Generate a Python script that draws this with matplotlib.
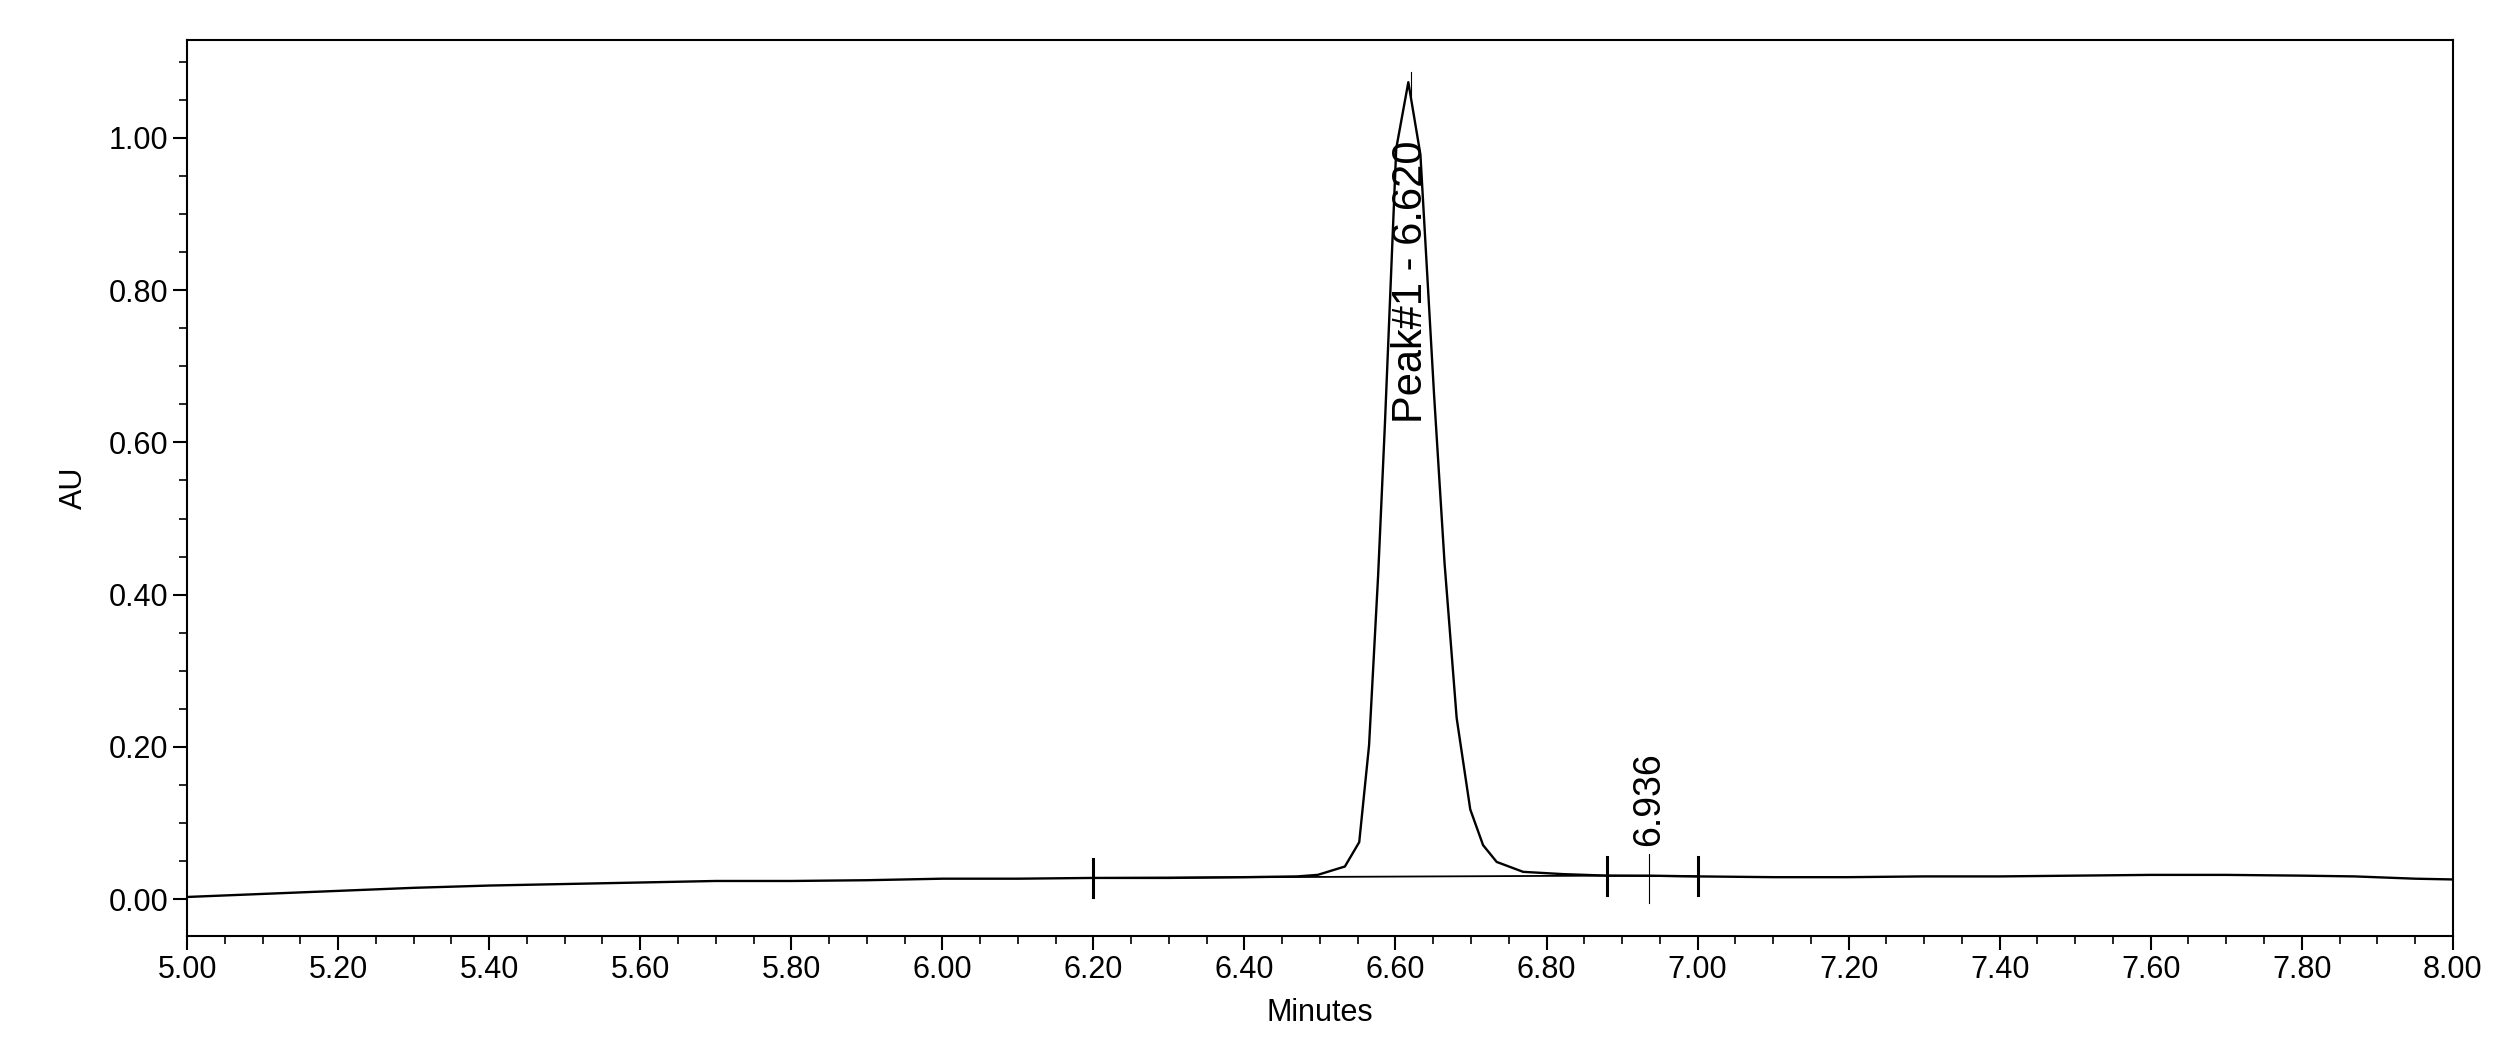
import matplotlib.pyplot as plt
from matplotlib.ticker import MultipleLocator, FormatStrFormatter

plt.rcParams['font.family'] = ['Liberation Sans', 'DejaVu Sans']

# chromatogram trace
minutes = [5.00, 5.10, 5.20, 5.30, 5.40, 5.50, 5.60, 5.70, 5.80, 5.90, 6.00, 6.10, 6.20, 6.30, 6.40,
           6.470, 6.497, 6.533, 6.552, 6.565, 6.577, 6.586, 6.601, 6.617, 6.633, 6.651, 6.665, 6.681,
           6.699, 6.716, 6.734, 6.769, 6.822, 6.880, 6.936, 7.00, 7.10, 7.20, 7.30, 7.40, 7.50,
           7.60, 7.70, 7.80, 7.87, 7.95, 8.00]
au = [0.003, 0.007, 0.011, 0.015, 0.018, 0.020, 0.022, 0.024, 0.024, 0.025, 0.027, 0.027, 0.028, 0.028, 0.029,
      0.030, 0.032, 0.043, 0.075, 0.202, 0.425, 0.624, 0.986, 1.073, 0.978, 0.664, 0.441, 0.238,
      0.118, 0.071, 0.049, 0.036, 0.033, 0.031, 0.031, 0.030, 0.029, 0.029, 0.030, 0.030, 0.031,
      0.032, 0.032, 0.031, 0.030, 0.027, 0.026]

# integration baseline segments and markers
base_x = [6.20, 6.88, 7.00]
base_y = [0.028, 0.031, 0.030]
peak_rt = [6.620, 6.936]
peak_top = 1.075

fig, ax = plt.subplots(figsize=(25.08, 10.61), dpi=100)
fig.subplots_adjust(left=0.0746, right=0.978, top=0.962, bottom=0.118)

ax.plot(minutes, au, color='black', lw=1.7)
ax.plot(base_x, base_y, color='black', lw=1.3)
for bx, by in zip(base_x, base_y):
    ax.plot([bx, bx], [by - 0.025, by + 0.025], color='black', lw=2.2)

# peak apex markers
ax.plot([peak_rt[0], peak_rt[0]], [peak_top - 0.02, peak_top + 0.012], color='black', lw=0.8)
ax.plot([peak_rt[1], peak_rt[1]], [-0.005, 0.06], color='black', lw=0.8)
ax.text(peak_rt[0], 0.625, 'Peak#1 - 6.620', rotation=90, ha='center', va='bottom', fontsize=30)
ax.text(peak_rt[1], 0.07, '6.936', rotation=90, ha='center', va='bottom', fontsize=27)

ax.set_xlim(5.0, 8.0)
ax.set_ylim(-0.048, 1.128)
ax.xaxis.set_major_locator(MultipleLocator(0.2))
ax.xaxis.set_minor_locator(MultipleLocator(0.05))
ax.yaxis.set_major_locator(MultipleLocator(0.2))
ax.yaxis.set_minor_locator(MultipleLocator(0.05))
ax.xaxis.set_major_formatter(FormatStrFormatter('%.2f'))
ax.yaxis.set_major_formatter(FormatStrFormatter('%.2f'))
ax.tick_params(which='major', length=10, width=1.5, labelsize=22)
ax.tick_params(which='minor', length=6, width=1.2)
for s in ax.spines.values():
    s.set_linewidth(1.5)
ax.set_xlabel('Minutes', fontsize=22, labelpad=10)
ax.set_ylabel('AU', fontsize=22, labelpad=14)

plt.savefig('out.png', dpi=100)
